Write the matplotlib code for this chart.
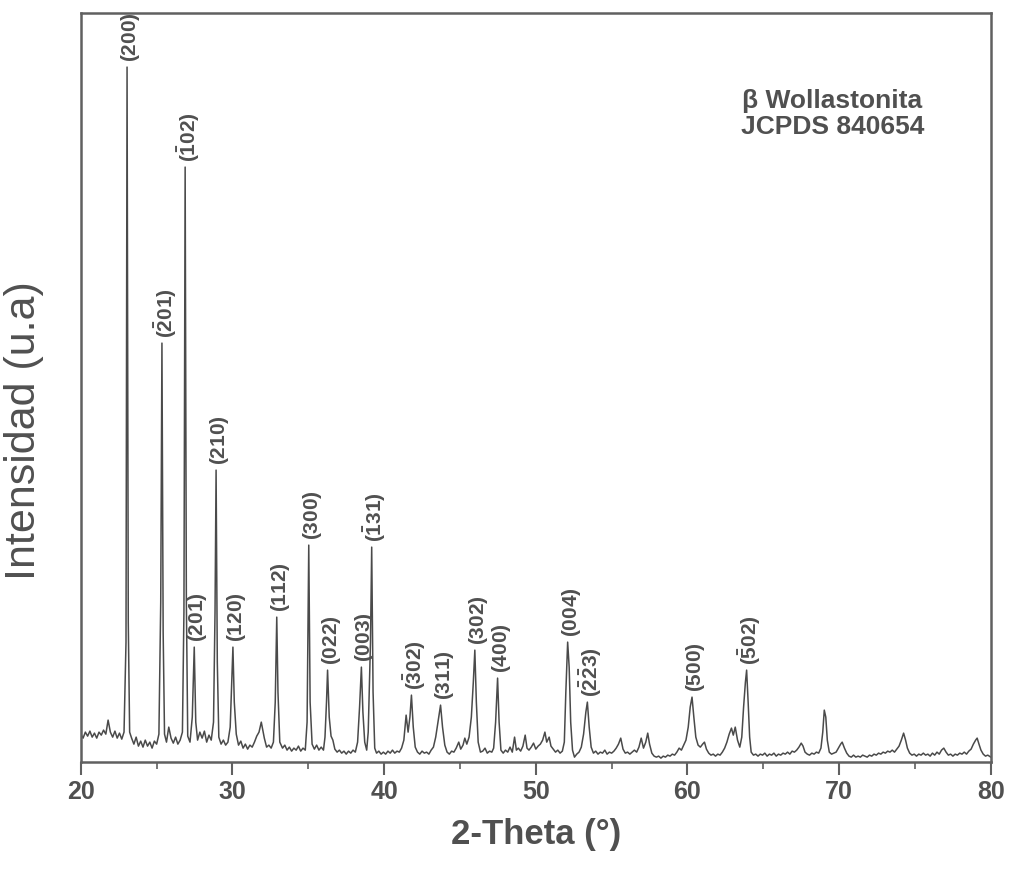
import numpy as np
import matplotlib
matplotlib.use('Agg')
import matplotlib.pyplot as plt

plt.rcParams['font.family'] = ['Liberation Sans', 'DejaVu Sans']
plt.rcParams['mathtext.fontset'] = 'custom'
plt.rcParams['mathtext.rm'] = 'Liberation Sans:bold'
plt.rcParams['mathtext.default'] = 'rm'

# XRD trace (2-theta in degrees, intensity in arbitrary units)
two_theta = [
    20.0, 20.15, 20.3, 20.45, 20.6, 20.75, 20.9, 21.05, 21.2, 21.35,
    21.5, 21.65, 21.8, 21.95, 22.1, 22.25, 22.4, 22.55, 22.7, 22.85,
    22.98, 23.05, 23.13, 23.22, 23.35, 23.5, 23.65, 23.8, 23.95, 24.1,
    24.25, 24.4, 24.55, 24.7, 24.85, 25.0, 25.15, 25.27, 25.35, 25.43,
    25.52, 25.65, 25.8, 25.95, 26.1, 26.25, 26.4, 26.55, 26.7, 26.8,
    26.88, 26.96, 27.05, 27.2, 27.35, 27.48, 27.58, 27.7, 27.85, 28.0,
    28.15, 28.3, 28.45, 28.6, 28.75, 28.85, 28.92, 29.0, 29.1, 29.25,
    29.4, 29.55, 29.7, 29.85, 29.95, 30.03, 30.12, 30.25, 30.4, 30.55,
    30.7, 30.85, 31.0, 31.15, 31.3, 31.45, 31.6, 31.75, 31.9, 32.0,
    32.1, 32.25, 32.4, 32.55, 32.7, 32.82, 32.92, 33.0, 33.12, 33.3,
    33.45, 33.6, 33.75, 33.9, 34.05, 34.2, 34.35, 34.5, 34.65, 34.8,
    34.92, 35.03, 35.12, 35.25, 35.4, 35.55, 35.7, 35.85, 36.0, 36.1,
    36.2, 36.27, 36.38, 36.5, 36.62, 36.75, 36.9, 37.05, 37.2, 37.35,
    37.5, 37.65, 37.8, 37.95, 38.1, 38.25, 38.38, 38.5, 38.6, 38.72,
    38.85, 38.95, 39.1, 39.18, 39.27, 39.38, 39.5, 39.65, 39.8, 39.95,
    40.1, 40.25, 40.4, 40.55, 40.7, 40.85, 41.0, 41.15, 41.3, 41.45,
    41.58, 41.7, 41.8, 41.92, 42.05, 42.2, 42.35, 42.5, 42.65, 42.8,
    42.95, 43.1, 43.25, 43.4, 43.55, 43.72, 43.85, 44.0, 44.15, 44.3,
    44.45, 44.6, 44.75, 44.92, 45.05, 45.2, 45.32, 45.45, 45.6, 45.75,
    45.88, 45.98, 46.08, 46.2, 46.35, 46.5, 46.65, 46.8, 46.95, 47.1,
    47.22, 47.35, 47.48, 47.58, 47.7, 47.85, 48.0, 48.15, 48.3, 48.45,
    48.6, 48.72, 48.85, 49.0, 49.15, 49.3, 49.42, 49.55, 49.7, 49.85,
    50.0, 50.15, 50.3, 50.45, 50.6, 50.72, 50.88, 51.0, 51.15, 51.3,
    51.45, 51.6, 51.75, 51.88, 51.98, 52.1, 52.2, 52.3, 52.42, 52.55,
    52.7, 52.85, 53.0, 53.15, 53.3, 53.4, 53.52, 53.65, 53.8, 53.95,
    54.1, 54.25, 54.4, 54.55, 54.7, 54.85, 55.0, 55.15, 55.3, 55.45,
    55.6, 55.75, 55.9, 56.05, 56.2, 56.35, 56.5, 56.65, 56.8, 56.95,
    57.1, 57.25, 57.38, 57.5, 57.65, 57.8, 57.95, 58.1, 58.25, 58.4,
    58.55, 58.7, 58.85, 59.0, 59.15, 59.3, 59.45, 59.6, 59.75, 59.9,
    60.05, 60.18, 60.3, 60.42, 60.55, 60.7, 60.85, 61.0, 61.12, 61.25,
    61.4, 61.55, 61.7, 61.85, 62.0, 62.15, 62.3, 62.45, 62.6, 62.75,
    62.9, 63.02, 63.15, 63.3, 63.45, 63.58, 63.7, 63.82, 63.9, 64.0,
    64.1, 64.2, 64.35, 64.5, 64.65, 64.8, 64.95, 65.1, 65.25, 65.4,
    65.55, 65.7, 65.85, 66.0, 66.15, 66.3, 66.45, 66.6, 66.75, 66.9,
    67.05, 67.2, 67.35, 67.5, 67.62, 67.75, 67.9, 68.05, 68.2, 68.35,
    68.5, 68.65, 68.8, 68.92, 69.02, 69.12, 69.22, 69.35, 69.5, 69.65,
    69.8, 69.95, 70.1, 70.2, 70.35, 70.5, 70.65, 70.8, 70.95, 71.1,
    71.25, 71.4, 71.55, 71.7, 71.85, 72.0, 72.15, 72.3, 72.45, 72.6,
    72.75, 72.9, 73.05, 73.2, 73.35, 73.5, 73.65, 73.8, 73.95, 74.1,
    74.25, 74.38, 74.5, 74.65, 74.8, 74.95, 75.1, 75.25, 75.4, 75.55,
    75.7, 75.85, 76.0, 76.15, 76.3, 76.45, 76.6, 76.75, 76.9, 77.05,
    77.2, 77.35, 77.5, 77.65, 77.8, 77.95, 78.1, 78.25, 78.4, 78.55,
    78.7, 78.85, 79.0, 79.1, 79.22, 79.35, 79.5, 79.65, 79.8, 80.0,
]
intensity = [
    28, 24, 30, 26, 31, 25, 29, 24, 30, 27,
    32, 28, 42, 30, 25, 31, 24, 29, 23, 30,
    120, 695, 140, 30, 24, 18, 25, 16, 21, 15,
    22, 16, 20, 14, 21, 18, 28, 160, 419, 130,
    28, 20, 35, 24, 19, 25, 18, 22, 30, 150,
    595, 160, 26, 20, 45, 115, 40, 22, 30, 24,
    31, 20, 27, 22, 40, 150, 292, 100, 25, 18,
    22, 17, 20, 35, 80, 115, 60, 28, 17, 21,
    14, 18, 13, 17, 15, 20, 26, 30, 40, 32,
    24, 15, 17, 14, 20, 60, 145, 70, 20, 14,
    17, 12, 15, 11, 14, 12, 16, 11, 14, 12,
    40, 217, 60, 18, 13, 17, 12, 15, 12, 25,
    60, 92, 45, 26, 22, 13, 10, 12, 9, 11,
    8, 11, 9, 12, 10, 20, 55, 95, 50, 20,
    12, 30, 120, 215, 70, 14, 9, 11, 8, 10,
    8, 11, 9, 12, 9, 11, 10, 14, 22, 47,
    30, 45, 67, 35, 15, 10, 8, 11, 9, 10,
    8, 12, 15, 25, 40, 57, 35, 17, 10, 8,
    11, 10, 14, 20, 13, 17, 24, 18, 25, 45,
    80, 112, 60, 20, 10, 11, 14, 9, 11, 10,
    14, 40, 84, 40, 12, 9, 12, 10, 15, 10,
    25, 12, 14, 11, 16, 27, 14, 12, 15, 19,
    13, 16, 18, 22, 30, 20, 25, 16, 13, 10,
    12, 9, 11, 20, 70, 120, 95, 40, 12, 5,
    8, 10, 15, 28, 50, 60, 35, 15, 9, 11,
    8, 10, 9, 12, 8, 10, 9, 11, 14, 18,
    24, 13, 9, 10, 8, 10, 12, 10, 15, 24,
    14, 20, 29, 18, 9, 6, 5, 6, 4, 6,
    5, 7, 6, 8, 7, 10, 14, 12, 17, 22,
    35, 55, 65, 45, 25, 17, 15, 18, 20, 13,
    9, 7, 8, 6, 8, 7, 10, 14, 20, 28,
    34, 27, 35, 22, 15, 25, 55, 80, 92, 60,
    25, 10, 7, 8, 6, 8, 7, 9, 6, 8,
    7, 9, 6, 8, 7, 9, 8, 10, 8, 11,
    10, 12, 15, 19, 16, 10, 8, 7, 9, 8,
    10, 9, 14, 30, 52, 45, 22, 10, 8, 9,
    10, 14, 18, 20, 14, 9, 6, 5, 7, 5,
    6, 5, 7, 6, 5, 7, 6, 8, 7, 9,
    8, 10, 9, 11, 10, 12, 10, 13, 16, 22,
    29, 22, 14, 9, 7, 8, 6, 8, 7, 9,
    7, 8, 6, 9, 7, 10, 8, 12, 14, 10,
    7, 8, 6, 8, 7, 9, 8, 10, 8, 11,
    13, 18, 22, 24, 18, 12, 8, 6, 7, 5,
]

# indexed reflections
peak_pos = [23.05, 25.35, 26.88, 27.48, 28.92, 30.03, 32.92, 35.03, 36.27, 38.5,
            39.18, 41.8, 43.72, 45.98, 47.48, 52.1, 53.4, 60.3, 63.9]
peak_label = [r'$(200)$', r'$(\bar{2}01)$', r'$(\bar{1}02)$', r'$(201)$', r'$(210)$',
              r'$(120)$', r'$(112)$', r'$(300)$', r'$(022)$', r'$(003)$',
              r'$(\bar{1}31)$', r'$(\bar{3}02)$', r'$(311)$', r'$(302)$', r'$(400)$',
              r'$(004)$', r'$(\bar{2}\bar{2}3)$', r'$(500)$', r'$(\bar{5}02)$']

x_ticks = [20, 30, 40, 50, 60, 70, 80]

gray = '#505050'
fig = plt.figure(figsize=(10.1, 8.71), dpi=100)
ax = fig.add_axes([0.080, 0.125, 0.901, 0.860])

ax.plot(two_theta, intensity, color='#4a4a4a', lw=1.1)

peak_y = np.interp(peak_pos, two_theta, intensity)
for x, y, lab in zip(peak_pos, peak_y, peak_label):
    ax.annotate(lab, xy=(x, y), xytext=(2.5, 4), textcoords='offset points',
                rotation=90, ha='center', va='bottom', fontsize=15, color=gray)

ax.text(0.826, 0.865, 'β Wollastonita\nJCPDS 840654', transform=ax.transAxes,
        ha='center', va='center', fontsize=19, fontweight='bold', color=gray,
        linespacing=1.1)

ax.set_xlim(20, 80)
ax.set_ylim(0, 749)
ax.set_xticks(x_ticks)
ax.set_xticks(np.arange(25, 80, 10), minor=True)
ax.set_yticks([])
ax.tick_params(axis='x', which='major', direction='out', length=9, width=1.5,
               color='#606060', labelsize=18, labelcolor=gray, pad=4)
ax.tick_params(axis='x', which='minor', direction='out', length=5, width=1.2,
               color='#606060')
for lab in ax.get_xticklabels():
    lab.set_fontweight('bold')

for s in ax.spines.values():
    s.set_color('#606060')
    s.set_linewidth(1.8)

ax.set_xlabel('2-Theta (°)', fontsize=25, fontweight='bold', color=gray)
ax.xaxis.set_label_coords(0.5, -0.075)
ax.set_ylabel('Intensidad (u.a)', fontsize=31, color=gray)
ax.yaxis.set_label_coords(-0.040, 0.443)

plt.savefig('out.png', dpi=100)
